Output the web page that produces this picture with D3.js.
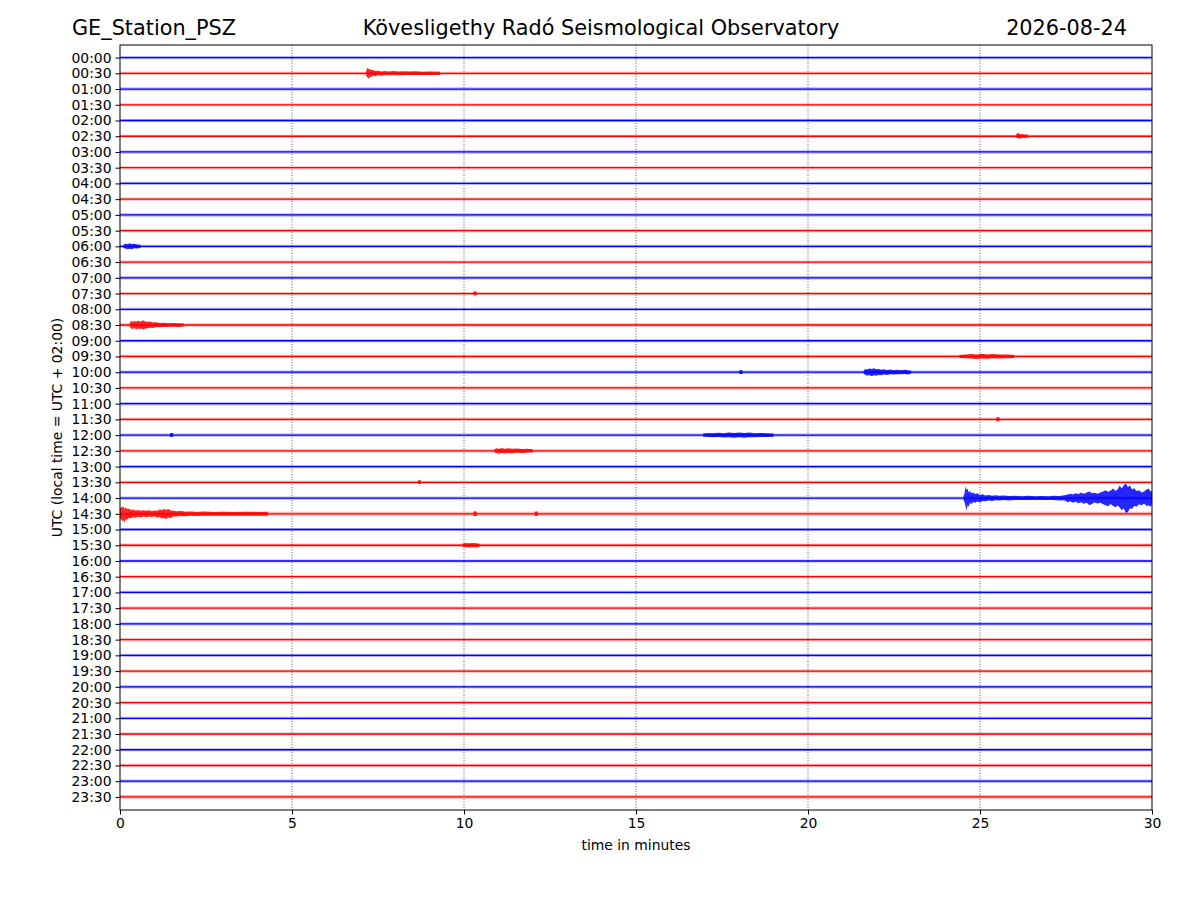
<!DOCTYPE html>
<html><head><meta charset="utf-8">
<script src="https://cdn.jsdelivr.net/npm/d3@7"></script>
<style>body{margin:0;background:#fff}svg{display:block;font-family:"DejaVu Sans",sans-serif}</style>
</head><body>
<script>
// ---------- data ----------
const titleLeft = "GE_Station_PSZ";
const titleCenter = "Kövesligethy Radó Seismological Observatory";
const titleRight = "2026-08-24";
const xLabel = "time in minutes";
const yLabel = "UTC (local time = UTC + 02:00)";
const xTicks = [0, 5, 10, 15, 20, 25, 30];
const traceLabels = ["00:00","00:30","01:00","01:30","02:00","02:30","03:00","03:30","04:00","04:30",
  "05:00","05:30","06:00","06:30","07:00","07:30","08:00","08:30","09:00","09:30",
  "10:00","10:30","11:00","11:30","12:00","12:30","13:00","13:30","14:00","14:30",
  "15:00","15:30","16:00","16:30","17:00","17:30","18:00","18:30","19:00","19:30",
  "20:00","20:30","21:00","21:30","22:00","22:30","23:00","23:30"];
// background noise half-amplitude per trace (in trace-spacing units)
const noiseLevel = [0.1,0.1,0.11,0.1,0.1,0.1,0.11,0.1,0.1,0.1,
  0.11,0.1,0.11,0.1,0.11,0.1,0.1,0.11,0.1,0.11,
  0.11,0.1,0.11,0.1,0.11,0.11,0.1,0.1,0.1,0.13,
  0.1,0.11,0.1,0.1,0.1,0.1,0.1,0.1,0.1,0.1,
  0.1,0.1,0.1,0.1,0.1,0.1,0.11,0.12];
// events: trace index + envelope [minute, upward amplitude, downward amplitude]
const ev00_30 = [[7.15,0.1,0.1],[7.18,0.3,0.22],[7.21,0.35,0.3],[7.24,0.22,0.35],[7.27,0.3,0.2],[7.3,0.2,0.26],[7.35,0.22,0.16],[7.42,0.15,0.18],[7.5,0.16,0.12],[7.6,0.12,0.15],[7.7,0.15,0.11],[7.8,0.12,0.13],[7.95,0.14,0.11],[8.1,0.11,0.13],[8.25,0.13,0.11],[8.4,0.11,0.1],[8.6,0.13,0.11],[8.8,0.1,0.1],[9.0,0.12,0.1],[9.3,0.1,0.1]];
const ev02_30 = [[26.05,0.1,0.1],[26.1,0.22,0.12],[26.15,0.14,0.16],[26.25,0.12,0.1],[26.4,0.1,0.1]];
const ev06_00 = [[0.1,0.1,0.1],[0.15,0.17,0.14],[0.22,0.14,0.19],[0.28,0.2,0.15],[0.34,0.15,0.18],[0.42,0.16,0.12],[0.5,0.12,0.13],[0.6,0.1,0.1]];
const ev07_30 = [[10.27,0.1,0.1],[10.32,0.16,0.12],[10.37,0.1,0.1]];
const ev08_30 = [[0.28,0.1,0.1],[0.32,0.25,0.2],[0.37,0.2,0.26],[0.42,0.27,0.2],[0.47,0.2,0.27],[0.52,0.28,0.22],[0.57,0.22,0.25],[0.63,0.26,0.22],[0.68,0.3,0.3],[0.73,0.22,0.24],[0.8,0.2,0.2],[0.88,0.22,0.17],[0.95,0.16,0.19],[1.05,0.17,0.14],[1.15,0.13,0.15],[1.28,0.15,0.12],[1.4,0.12,0.13],[1.55,0.13,0.11],[1.7,0.11,0.12],[1.85,0.1,0.1]];
const ev09_30 = [[24.4,0.1,0.1],[24.6,0.13,0.11],[24.75,0.15,0.13],[24.9,0.13,0.16],[25.05,0.17,0.13],[25.2,0.13,0.15],[25.35,0.15,0.12],[25.55,0.12,0.13],[25.75,0.13,0.11],[26.0,0.1,0.1]];
const ev10_00a = [[18.0,0.1,0.1],[18.05,0.15,0.12],[18.1,0.1,0.1]];
const ev10_00b = [[21.62,0.1,0.1],[21.66,0.2,0.16],[21.72,0.17,0.22],[21.78,0.24,0.18],[21.85,0.2,0.25],[21.92,0.25,0.2],[21.98,0.18,0.23],[22.05,0.21,0.17],[22.12,0.16,0.2],[22.2,0.18,0.15],[22.3,0.14,0.17],[22.4,0.17,0.13],[22.5,0.13,0.14],[22.6,0.16,0.13],[22.7,0.12,0.13],[22.82,0.15,0.12],[22.9,0.12,0.14],[23.0,0.1,0.1]];
const ev11_30 = [[25.47,0.1,0.1],[25.52,0.17,0.14],[25.57,0.1,0.1]];
const ev12_00a = [[1.45,0.1,0.1],[1.5,0.15,0.12],[1.55,0.1,0.1]];
const ev12_00b = [[16.95,0.1,0.1],[17.1,0.14,0.12],[17.25,0.12,0.14],[17.4,0.15,0.12],[17.55,0.12,0.15],[17.7,0.16,0.13],[17.85,0.13,0.16],[18.0,0.17,0.14],[18.15,0.13,0.16],[18.3,0.16,0.13],[18.45,0.12,0.14],[18.6,0.14,0.12],[18.8,0.12,0.12],[19.0,0.1,0.1]];
const ev12_30 = [[10.88,0.1,0.1],[10.95,0.17,0.14],[11.02,0.14,0.18],[11.1,0.18,0.14],[11.18,0.14,0.16],[11.28,0.16,0.13],[11.4,0.13,0.15],[11.55,0.15,0.12],[11.7,0.12,0.13],[11.85,0.13,0.11],[12.0,0.1,0.1]];
const ev13_30 = [[8.66,0.1,0.1],[8.7,0.16,0.11],[8.75,0.1,0.1]];
const ev14_00 = [[24.52,0.1,0.1],[24.55,0.3,0.25],[24.58,0.75,0.5],[24.61,0.5,0.8],[24.64,0.6,0.45],[24.67,0.35,0.55],[24.71,0.45,0.3],[24.75,0.3,0.4],[24.8,0.35,0.25],[24.86,0.25,0.3],[24.92,0.3,0.22],[25.0,0.2,0.26],[25.08,0.24,0.18],[25.16,0.17,0.21],[25.25,0.2,0.15],[25.35,0.15,0.18],[25.45,0.18,0.14],[25.55,0.14,0.16],[25.7,0.16,0.13],[25.85,0.13,0.15],[26.0,0.15,0.12],[26.2,0.12,0.13],[26.4,0.14,0.12],[26.6,0.12,0.13],[26.8,0.13,0.12],[27.0,0.12,0.12],[27.15,0.14,0.12],[27.3,0.13,0.16],[27.45,0.18,0.14],[27.55,0.22,0.26],[27.62,0.28,0.2],[27.7,0.22,0.3],[27.78,0.3,0.24],[27.86,0.26,0.33],[27.94,0.35,0.26],[28.02,0.28,0.36],[28.1,0.36,0.3],[28.18,0.42,0.45],[28.25,0.3,0.38],[28.33,0.34,0.28],[28.42,0.28,0.34],[28.5,0.35,0.3],[28.58,0.42,0.4],[28.65,0.5,0.45],[28.72,0.4,0.52],[28.8,0.48,0.38],[28.87,0.6,0.5],[28.94,0.45,0.58],[29.0,0.55,0.48],[29.06,0.8,0.6],[29.12,0.6,0.78],[29.18,0.82,0.65],[29.24,0.92,0.95],[29.3,0.7,0.88],[29.36,0.8,0.65],[29.42,0.55,0.7],[29.48,0.62,0.5],[29.55,0.45,0.55],[29.62,0.5,0.4],[29.7,0.35,0.45],[29.77,0.42,0.35],[29.84,0.55,0.5],[29.9,0.6,0.45],[29.96,0.42,0.55],[30.0,0.45,0.4]];
const ev14_30a = [[0.0,0.35,0.3],[0.03,0.45,0.35],[0.06,0.38,0.48],[0.1,0.48,0.4],[0.13,0.32,0.55],[0.17,0.4,0.35],[0.21,0.3,0.38],[0.26,0.33,0.26],[0.32,0.24,0.28],[0.38,0.27,0.22],[0.45,0.21,0.25],[0.52,0.24,0.19],[0.6,0.19,0.23],[0.68,0.23,0.18],[0.76,0.19,0.22],[0.84,0.22,0.18],[0.92,0.18,0.21],[1.0,0.21,0.18],[1.08,0.2,0.23],[1.16,0.27,0.22],[1.22,0.24,0.3],[1.28,0.31,0.26],[1.34,0.26,0.35],[1.4,0.3,0.24],[1.47,0.22,0.26],[1.55,0.2,0.18],[1.65,0.16,0.18],[1.78,0.17,0.14],[1.9,0.13,0.15],[2.05,0.15,0.12],[2.25,0.12,0.14],[2.45,0.14,0.12],[2.7,0.12,0.13],[3.0,0.13,0.12],[3.3,0.12,0.13],[3.7,0.13,0.12],[4.0,0.12,0.13],[4.3,0.13,0.12]];
const ev14_30b = [[10.27,0.12,0.12],[10.32,0.17,0.15],[10.37,0.12,0.12]];
const ev14_30c = [[12.05,0.12,0.12],[12.1,0.16,0.14],[12.15,0.12,0.12]];
const ev15_30 = [[9.95,0.1,0.1],[10.05,0.15,0.12],[10.15,0.12,0.15],[10.25,0.15,0.12],[10.35,0.12,0.14],[10.45,0.1,0.1]];
const events = [
  {trace: 1, env: ev00_30}, {trace: 5, env: ev02_30}, {trace: 12, env: ev06_00},
  {trace: 15, env: ev07_30}, {trace: 17, env: ev08_30}, {trace: 19, env: ev09_30},
  {trace: 20, env: ev10_00a}, {trace: 20, env: ev10_00b}, {trace: 23, env: ev11_30},
  {trace: 24, env: ev12_00a}, {trace: 24, env: ev12_00b}, {trace: 25, env: ev12_30},
  {trace: 27, env: ev13_30}, {trace: 28, env: ev14_00}, {trace: 29, env: ev14_30a},
  {trace: 29, env: ev14_30b}, {trace: 29, env: ev14_30c}, {trace: 31, env: ev15_30}
];

// ---------- drawing ----------
const W = 1200, H = 900;
const m = {left: 120, right: 1152, top: 45, bottom: 810};
const svg = d3.select("body").append("svg").attr("width", W).attr("height", H);
const x = d3.scaleLinear().domain([0, 30]).range([m.left, m.right]);
const y = d3.scaleLinear().domain([-0.8, 47.83]).range([m.top, m.bottom]);
const colorOf = i => (i % 2 === 0 ? "#0000ff" : "#ff0000");

svg.append("defs").append("clipPath").attr("id", "clip")
  .append("rect").attr("x", m.left).attr("y", m.top)
  .attr("width", m.right - m.left).attr("height", m.bottom - m.top);

// grid
svg.append("g").selectAll("line").data(xTicks.slice(1, -1)).join("line")
  .attr("x1", d => x(d)).attr("x2", d => x(d))
  .attr("y1", m.top).attr("y2", m.bottom)
  .attr("stroke", "#333").attr("stroke-width", 0.8).attr("stroke-dasharray", "1,1.6");

const plot = svg.append("g").attr("clip-path", "url(#clip)");

// noise bands + baselines
const band = d3.area().x(d => x(d[0])).y0(d => y(d[1])).y1(d => y(d[2]));
traceLabels.forEach((lab, i) => {
  const n = noiseLevel[i];
  plot.append("path")
    .attr("d", band([[0, i - n, i + n], [30, i - n, i + n]]))
    .attr("fill", colorOf(i)).attr("opacity", 0.28);
  plot.append("line")
    .attr("x1", x(0)).attr("x2", x(30)).attr("y1", y(i)).attr("y2", y(i))
    .attr("stroke", colorOf(i)).attr("stroke-width", 1.3);
});

// events
events.forEach(e => {
  const pts = e.env.map(d => [d[0], e.trace - d[1], e.trace + d[2]]);
  plot.append("path").attr("d", band(pts))
    .attr("fill", colorOf(e.trace)).attr("opacity", 0.85);
});

// frame
svg.append("rect").attr("x", m.left).attr("y", m.top)
  .attr("width", m.right - m.left).attr("height", m.bottom - m.top)
  .attr("fill", "none").attr("stroke", "#000").attr("stroke-width", 1);

// axes
const xAxis = svg.append("g").attr("transform", `translate(0,${m.bottom})`)
  .call(d3.axisBottom(x).tickValues(xTicks).tickFormat(d3.format("d")).tickSize(4.5).tickPadding(4));
const yAxis = svg.append("g").attr("transform", `translate(${m.left},0)`)
  .call(d3.axisLeft(y).tickValues(d3.range(traceLabels.length)).tickFormat(i => traceLabels[i]).tickSize(4.5).tickPadding(4));
[xAxis, yAxis].forEach(a => {
  a.select(".domain").remove();
  a.selectAll("text").attr("font-size", 13.9).attr("fill", "#000").attr("font-family", "DejaVu Sans");
  a.selectAll("line").attr("stroke", "#000");
});

// texts
svg.append("text").attr("x", 72).attr("y", 35).attr("font-size", 20.8).text(titleLeft);
svg.append("text").attr("x", 601).attr("y", 35).attr("font-size", 20.8).attr("text-anchor", "middle").text(titleCenter);
svg.append("text").attr("x", 1127).attr("y", 35).attr("font-size", 20.8).attr("text-anchor", "end").text(titleRight);
svg.append("text").attr("x", (m.left + m.right) / 2).attr("y", 850).attr("font-size", 13.9)
  .attr("text-anchor", "middle").text(xLabel);
svg.append("text").attr("transform", `translate(62,${(m.top + m.bottom) / 2}) rotate(-90)`)
  .attr("font-size", 13.9).attr("text-anchor", "middle").text(yLabel);
</script>
</body></html>
